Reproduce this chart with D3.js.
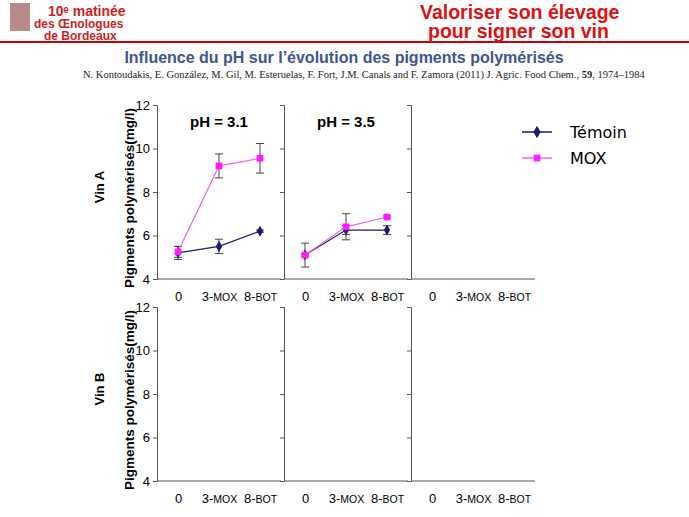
<!DOCTYPE html><html><head><meta charset="utf-8"><script src="https://cdn.jsdelivr.net/npm/d3@7"></script>
<style>body{margin:0;background:#fff}</style></head><body><svg id="s" width="689" height="517"></svg>
<script>
const categories=["0","3-MOX","8-BOT"];
const panelTitles=["pH = 3.1","pH = 3.5",""];
const temoinA31=[5.2,5.5,6.2], temoinErrA31=[0.3,0.33,0.05];
const moxA31=[5.25,9.2,9.55], moxErrA31=[0.25,0.55,0.68];
const temoinA35=[5.1,6.25,6.25], temoinErrA35=[0.55,0.2,0.2];
const moxA35=[5.1,6.4,6.85], moxErrA35=[0.05,0.6,0.05];
const yTicks=[4,6,8,10,12];
const svg=d3.select("#s");
svg.append("line").attr("x1",0).attr("x2",689).attr("y1",42).attr("y2",42).attr("stroke","#c00").attr("stroke-width",2);
svg.append("text").attr("x",48).attr("y",16).attr("font-family","Liberation Sans").attr("font-weight","bold").attr("font-size",14).attr("fill","#c22").text("10ᵉ matinée");
svg.append("text").attr("x",34).attr("y",28).attr("font-family","Liberation Sans").attr("font-weight","bold").attr("font-size",12).attr("fill","#c22").text("des Œnologues");
svg.append("text").attr("x",44).attr("y",40).attr("font-family","Liberation Sans").attr("font-weight","bold").attr("font-size",12).attr("fill","#c22").text("de Bordeaux");
svg.append("rect").attr("x",10).attr("y",3).attr("width",20).attr("height",28).attr("fill","#b98a8a");
svg.append("text").attr("x",420).attr("y",19).attr("font-family","Liberation Sans").attr("font-weight","bold").attr("font-size",19.5).attr("fill","#d11").text("Valoriser son élevage");
svg.append("text").attr("x",428).attr("y",38).attr("font-family","Liberation Sans").attr("font-weight","bold").attr("font-size",19.5).attr("fill","#d11").text("pour signer son vin");
svg.append("text").attr("x",344).attr("y",63).attr("text-anchor","middle").attr("font-family","Liberation Sans").attr("font-weight","bold").attr("font-size",16).attr("fill","#3d5690").text("Influence du pH sur l’évolution des pigments polymérisés");
const ref=svg.append("text").attr("x",83).attr("y",78).attr("font-family","Liberation Serif").attr("font-size",10.5).attr("fill","#222");
ref.append("tspan").text("N. Kontoudakis, E. González, M. Gil, M. Esteruelas, F. Fort, J.M. Canals and F. Zamora (2011) J. Agric. Food Chem., ");
ref.append("tspan").attr("font-weight","bold").text("59");ref.append("tspan").text(", 1974–1984");
const rows=[{top:105,label:"Vin A",data:[[temoinA31,temoinErrA31,moxA31,moxErrA31],[temoinA35,temoinErrA35,moxA35,moxErrA35],null]},{top:307,label:"Vin B",data:[null,null,null]}];
const pw=127,left0=157,h=174;
rows.forEach(r=>{
 const y=d3.scaleLinear().domain([4,12]).range([r.top+h,r.top]);
 svg.append("text").attr("transform",`translate(134,${r.top+h/2+6}) rotate(-90)`).attr("text-anchor","middle").attr("font-family","Liberation Sans").attr("font-weight","bold").attr("font-size",13.5).text("Pigments polymérisés(mg/l)");
 svg.append("text").attr("transform",`translate(104,${r.top+h/2-5}) rotate(-90)`).attr("text-anchor","middle").attr("font-family","Liberation Sans").attr("font-weight","bold").attr("font-size",13).text(r.label);
 for(let p=0;p<3;p++){
  const x0=left0+p*pw;
  const x=d3.scalePoint().domain(categories).range([x0+21,x0+103]);
  const ya=svg.append("g").attr("transform",`translate(${x0},0)`).call(d3.axisLeft(y).tickValues(yTicks).tickSize(4).tickFormat(p==0?d3.format("d"):""));
  ya.selectAll("text").attr("font-family","Liberation Sans").attr("font-size",13);
  ya.selectAll("path,line").attr("stroke","#555");
  const xa=svg.append("g").attr("transform",`translate(0,${r.top+h+5})`).call(d3.axisBottom(x).tickSize(0).tickSizeOuter(0));
  xa.select("path").remove();
  xa.selectAll("text").attr("font-family","Liberation Sans").attr("font-size",13).attr("dy","1.1em")
    .each(function(t){const el=d3.select(this);const parts=t.split("-");if(parts.length>1){el.text("");el.append("tspan").text(parts[0]+"-");el.append("tspan").attr("font-size",10.5).text(parts[1]);}});
  svg.append("line").attr("x1",x0).attr("x2",x0+pw-3).attr("y1",r.top+h).attr("y2",r.top+h).attr("stroke","#555");
  if(r.top===105&&panelTitles[p]) svg.append("text").attr("x",x0+62).attr("y",r.top+22).attr("text-anchor","middle").attr("font-family","Liberation Sans").attr("font-weight","bold").attr("font-size",15).text(panelTitles[p]);
  const d=r.data[p]; if(!d) continue;
  [[d[0],d[1],"#1a1a6e","d"],[d[2],d[3],"#ff1aff","s"]].forEach(([v,e,c,sh])=>{
   v.forEach((val,i)=>{const cx=x(categories[i]);
    svg.append("line").attr("x1",cx).attr("x2",cx).attr("y1",y(val-e[i])).attr("y2",y(val+e[i])).attr("stroke","#444");
    [val-e[i],val+e[i]].forEach(t=>svg.append("line").attr("x1",cx-4).attr("x2",cx+4).attr("y1",y(t)).attr("y2",y(t)).attr("stroke","#444"));});
   svg.append("path").attr("d",d3.line().x((_,i)=>x(categories[i])).y(v2=>y(v2))(v)).attr("fill","none").attr("stroke",sh=="d"?"#1a1a6e":"#ee66ee").attr("stroke-width",1.2);
   svg.selectAll(null).data(v).enter().append("path").attr("transform",(val,i)=>`translate(${x(categories[i])},${y(val)})`).attr("d",d3.symbol(sh=="d"?d3.symbolDiamond:d3.symbolSquare,sh=="d"?35:45)).attr("fill",c);
  });
 }
});
const lg=[["Témoin","#1a1a6e",d3.symbolDiamond,"#1a1a6e"],["MOX","#ff1aff",d3.symbolSquare,"#ee66ee"]];
lg.forEach((l,i)=>{const yy=132+i*26;
 svg.append("line").attr("x1",522).attr("x2",552).attr("y1",yy).attr("y2",yy).attr("stroke",l[3]).attr("stroke-width",1.5);
 svg.append("path").attr("transform",`translate(537,${yy})`).attr("d",d3.symbol(l[2],45)).attr("fill",l[1]);
 svg.append("text").attr("x",570).attr("y",yy+6).attr("font-family","DejaVu Sans").attr("font-size",16).text(l[0]);});
</script></body></html>
